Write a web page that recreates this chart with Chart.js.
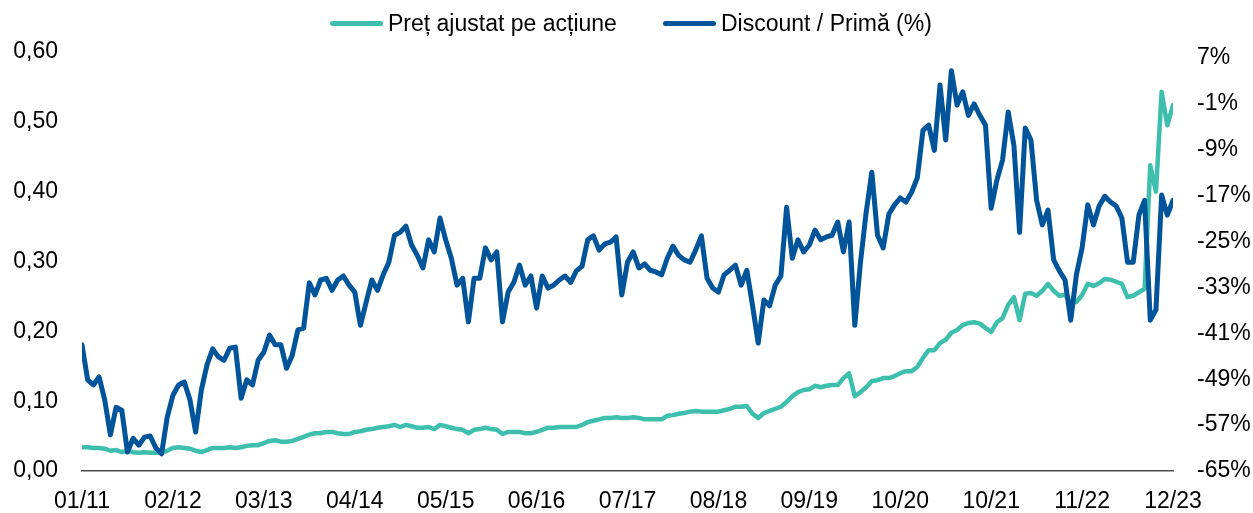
<!DOCTYPE html>
<html>
<head>
<meta charset="utf-8">
<script src="https://cdn.jsdelivr.net/npm/chart.js@4.4.1/dist/chart.umd.min.js"></script>
<style>
  body { margin: 0; background: #fff; }
  #wrap { position: relative; width: 1253px; height: 513px; }
  .legend-item {
    position: absolute; top: 12px; height: 23px; line-height: 23px;
    display: flex; align-items: center; white-space: nowrap;
    font: 23px 'Liberation Sans', Arial, sans-serif; color: #000;
  }
  .swatch { display: inline-block; width: 53px; height: 5px; border-radius: 3px; margin-right: 5px; }
</style>
</head>
<body>
<div id="wrap">
  <canvas id="chart"></canvas>
  <div class="legend-item" style="left:330px"><span class="swatch" style="background:#3ebfad"></span>Preț ajustat pe acțiune</div>
  <div class="legend-item" style="left:663px"><span class="swatch" style="background:#00549a"></span>Discount / Primă (%)</div>
</div>
<script>
// tick labels
const xLabels = ['01/11', '02/12', '03/13', '04/14', '05/15', '06/16', '07/17', '08/18', '09/19', '10/20', '10/21', '11/22', '12/23'];
const leftTicks = [0, 0.1, 0.2, 0.3, 0.4, 0.5, 0.6];
const rightTicks = [-65, -57, -49, -41, -33, -25, -17, -9, -1, 7];

// values, 16 samples between two date labels
const pricePerShare = [
    0.034, 0.034, 0.033, 0.033, 0.032, 0.029, 0.030, 0.027, 0.029, 0.027,
    0.026, 0.027, 0.026, 0.026, 0.026, 0.029, 0.033, 0.034, 0.033, 0.032,
    0.029, 0.027, 0.030, 0.033, 0.033, 0.033, 0.034, 0.033, 0.034, 0.036,
    0.037, 0.037, 0.040, 0.043, 0.044, 0.042, 0.042, 0.043, 0.046, 0.049,
    0.052, 0.054, 0.054, 0.056, 0.056, 0.054, 0.053, 0.053, 0.056, 0.057,
    0.059, 0.060, 0.062, 0.063, 0.064, 0.066, 0.063, 0.066, 0.064, 0.062,
    0.062, 0.063, 0.060, 0.066, 0.064, 0.062, 0.060, 0.059, 0.054, 0.059,
    0.060, 0.062, 0.060, 0.059, 0.053, 0.056, 0.056, 0.056, 0.054, 0.054,
    0.056, 0.059, 0.062, 0.062, 0.063, 0.063, 0.063, 0.063, 0.066, 0.070,
    0.072, 0.074, 0.076, 0.076, 0.077, 0.076, 0.076, 0.077, 0.076, 0.074,
    0.074, 0.074, 0.074, 0.079, 0.080, 0.082, 0.083, 0.085, 0.086, 0.085,
    0.085, 0.085, 0.085, 0.087, 0.089, 0.092, 0.092, 0.093, 0.082, 0.076,
    0.083, 0.086, 0.089, 0.092, 0.099, 0.107, 0.113, 0.116, 0.117, 0.122,
    0.120, 0.122, 0.123, 0.123, 0.133, 0.140, 0.107, 0.113, 0.120, 0.129,
    0.130, 0.133, 0.133, 0.136, 0.140, 0.143, 0.143, 0.149, 0.162, 0.173,
    0.173, 0.183, 0.188, 0.198, 0.202, 0.209, 0.212, 0.213, 0.211, 0.205,
    0.199, 0.213, 0.219, 0.238, 0.249, 0.216, 0.254, 0.255, 0.251, 0.258,
    0.268, 0.258, 0.251, 0.252, 0.241, 0.242, 0.252, 0.268, 0.265, 0.269,
    0.275, 0.274, 0.271, 0.268, 0.249, 0.251, 0.256, 0.261, 0.438, 0.400,
    0.543, 0.495, 0.524
];

const discountPremium = [
    -43.0, -49.1, -50.0, -48.6, -52.6, -58.7, -53.9, -54.4, -61.7, -59.3,
    -60.5, -59.1, -58.9, -61.0, -62.0, -55.6, -51.8, -50.0, -49.5, -52.6,
    -58.2, -50.9, -46.5, -43.7, -45.1, -45.7, -43.6, -43.4, -52.3, -49.1,
    -50.0, -45.7, -44.3, -41.3, -43.0, -43.0, -47.1, -44.8, -40.4, -40.1,
    -32.2, -34.3, -31.7, -31.4, -33.5, -31.7, -31.0, -32.6, -33.8, -39.6,
    -35.6, -31.7, -33.5, -30.8, -28.6, -23.9, -23.4, -22.3, -25.6, -27.4,
    -29.6, -24.7, -26.8, -20.9, -24.7, -27.9, -32.6, -31.4, -39.0, -31.4,
    -31.4, -26.1, -28.2, -26.8, -39.0, -33.8, -32.1, -29.1, -32.6, -31.0,
    -36.6, -31.0, -33.1, -32.6, -31.7, -31.0, -32.1, -30.1, -29.3, -24.7,
    -24.0, -26.5, -25.4, -25.1, -24.2, -34.3, -28.6, -26.8, -29.6, -28.9,
    -30.0, -30.3, -30.8, -27.9, -25.8, -27.4, -28.2, -28.6, -26.5, -24.0,
    -31.4, -33.1, -33.8, -30.8, -30.0, -29.1, -32.6, -30.0, -36.1, -42.7,
    -35.2, -36.2, -32.6, -31.0, -19.0, -27.9, -24.7, -26.8, -25.6, -23.0,
    -24.7, -24.2, -23.9, -21.6, -26.8, -21.6, -39.6, -28.6, -19.9, -12.9,
    -23.9, -26.1, -20.2, -18.6, -17.4, -18.1, -16.4, -13.9, -5.6, -4.7,
    -9.1, 2.3, -7.3, 4.8, -1.2, 1.1, -3.0, -1.0, -3.0, -4.7,
    -19.2, -14.3, -10.8, -2.4, -8.2, -23.4, -5.2, -7.3, -17.8, -22.1,
    -19.5, -28.2, -30.1, -31.7, -38.7, -30.8, -26.1, -18.6, -22.1, -18.8,
    -17.1, -18.1, -18.8, -20.9, -28.6, -28.6, -20.4, -17.8, -38.7, -36.9,
    -16.9, -20.4, -17.8
];

const STEP = 16; // samples per label

Chart.defaults.font.family = "'Liberation Sans', Arial, sans-serif";
Chart.defaults.font.size = 23;
Chart.defaults.color = '#000';

const toPoints = arr => arr.map((v, i) => ({ x: i, y: v }));

new Chart(document.getElementById('chart'), {
    type: 'line',
    data: {
        datasets: [
            {
                label: 'Preț ajustat pe acțiune',
                data: toPoints(pricePerShare),
                yAxisID: 'y',
                borderColor: '#3ebfad',
                borderWidth: 4.5,
                order: 1
            },
            {
                label: 'Discount / Primă (%)',
                data: toPoints(discountPremium),
                yAxisID: 'y1',
                borderColor: '#00549a',
                borderWidth: 5,
                order: 0
            }
        ]
    },
    options: {
        responsive: true,
        maintainAspectRatio: false,
        animation: false,
        layout: { padding: { top: 52, left: 12, right: 3, bottom: 0 } },
        elements: {
            point: { radius: 0 },
            line: { tension: 0, borderJoinStyle: 'round', borderCapStyle: 'round' }
        },
        plugins: { legend: { display: false }, tooltip: { enabled: false } },
        scales: {
            x: {
                type: 'linear',
                min: 0,
                max: (xLabels.length - 1) * STEP,
                grid: { display: false, drawTicks: false },
                border: { display: true, color: '#4d4d4d', width: 1.5 },
                afterFit: s => { s.height = 42; s.paddingLeft = 0; s.paddingRight = 0; },
                ticks: {
                    stepSize: STEP,
                    padding: 17,
                    maxRotation: 0,
                    autoSkip: false,
                    callback: v => xLabels[v / STEP]
                }
            },
            y: {
                position: 'left',
                min: 0,
                max: 0.6,
                grid: { display: false, drawTicks: false },
                border: { display: false },
                afterBuildTicks: s => { s.ticks = leftTicks.map(v => ({ value: v })); },
                afterFit: s => { s.width = 70; },
                ticks: { padding: 24, callback: v => v.toFixed(2).replace('.', ',') }
            },
            y1: {
                position: 'right',
                min: -65,
                max: 8.05,
                grid: { display: false, drawTicks: false },
                border: { display: false },
                afterBuildTicks: s => { s.ticks = rightTicks.map(v => ({ value: v })); },
                afterFit: s => { s.width = 77; },
                ticks: { padding: 24, callback: v => v + '%' }
            }
        }
    }
});
</script>
</body>
</html>
